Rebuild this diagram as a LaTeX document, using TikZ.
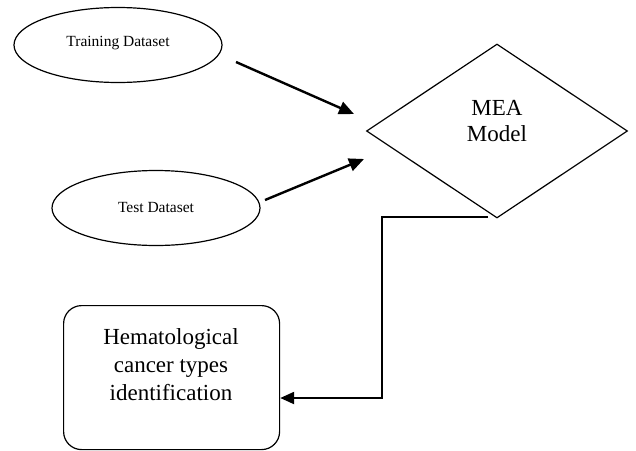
\documentclass[tikz,border=0pt]{standalone}
\usepackage{fontspec}
\setmainfont{Liberation Serif}
\usetikzlibrary{shapes.geometric,arrows.meta}
\begin{document}
\begin{tikzpicture}[x=1pt,y=-1pt,
  data/.style={draw,line width=1.2pt,ellipse,minimum width=208pt,minimum height=75pt,inner sep=0pt,font=\fontsize{15.5}{17}\selectfont},
  model/.style={draw,line width=1.2pt,diamond,minimum width=261pt,minimum height=174pt,inner sep=0pt},
  result/.style={draw,line width=1.2pt,rounded corners=18pt,minimum width=216pt,minimum height=144pt,inner sep=0pt},
  label/.style={align=center,anchor=north,font=\fontsize{23}{26}\selectfont},
  flow/.style={line width=2.4pt,-{Triangle[length=15pt,width=13pt]}},
  link/.style={line width=2.2pt,-{Triangle[length=14pt,width=12pt]}}]
\useasboundingbox (0,0) rectangle (636,450);
\node[data] (train) at (118,45) {\raisebox{7pt}{Training Dataset}};
\node[data] (test) at (156,208) {\raisebox{2pt}{Test Dataset}};
\node[model] (mea) at (497,131) {};
\node[label] (meatext) at (497,97) {MEA\\Model};
\node[result,anchor=north west] (res) at (63,305) {};
\node[label,font=\fontsize{23}{28}\selectfont] (restext) at (171,325) {Hematological\\cancer types\\identification};
\coordinate (a1s) at (236,62);
\coordinate (a1e) at (354,114);
\coordinate (a2s) at (265,200);
\coordinate (a2e) at (364,159);
\coordinate (c0) at (488,217);
\coordinate (c1) at (382,217);
\coordinate (c2) at (382,398);
\draw[flow] (a1s) -- (a1e);
\draw[flow] (a2s) -- (a2e);
\draw[link] (c0) -- (c1) -- (c2) -- (c2 -| res.east);
\end{tikzpicture}
\end{document}
